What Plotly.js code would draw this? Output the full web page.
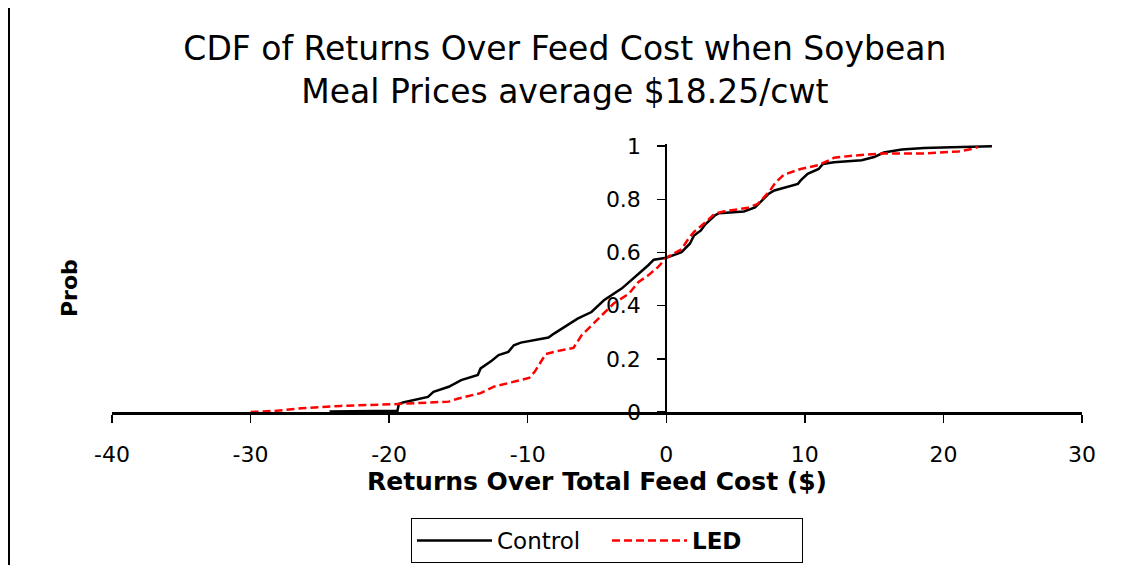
<!DOCTYPE html>
<html>
<head>
<meta charset="utf-8">
<script src="https://cdn.plot.ly/plotly-3.0.1.min.js"></script>
<style>
  html, body { margin: 0; padding: 0; background: #fff; }
  #chart { width: 1123px; height: 565px; }
</style>
</head>
<body>
<div id="chart"></div>
<script>
// Control CDF (Returns over total feed cost, $ ; cumulative probability)
const controlX = [-24.3, -21.9, -19.4, -19.3, -19.0, -17.2, -16.8, -15.7, -14.8, -13.6, -13.4, -12.6, -12.1, -11.4, -11.0, -10.5, -9.7, -8.5, -8.1, -7.3, -6.4, -5.4, -4.5, -3.2, -2.2, -1.3, -0.9, 0, 1.1, 1.7, 2.0, 2.5, 2.8, 3.5, 3.8, 5.6, 6.4, 6.9, 7.4, 7.8, 9.5, 9.7, 10.2, 11.0, 11.3, 12.1, 14.1, 15.0, 15.7, 17.0, 18.6, 20.6, 23.5];
const controlY = [0.002, 0.004, 0.005, 0.030, 0.036, 0.057, 0.076, 0.095, 0.120, 0.139, 0.164, 0.193, 0.214, 0.226, 0.251, 0.261, 0.268, 0.280, 0.295, 0.321, 0.351, 0.376, 0.420, 0.465, 0.510, 0.552, 0.573, 0.580, 0.601, 0.633, 0.664, 0.683, 0.705, 0.739, 0.748, 0.754, 0.769, 0.795, 0.821, 0.833, 0.858, 0.871, 0.896, 0.914, 0.933, 0.939, 0.947, 0.959, 0.976, 0.987, 0.993, 0.996, 1.0];

// LED CDF
const ledX = [-30.0, -28.3, -26.3, -23.5, -19.8, -18.2, -15.7, -15.0, -13.4, -12.4, -11.0, -9.9, -9.5, -8.7, -7.8, -6.7, -6.1, -5.4, -4.7, -3.8, -2.7, -2.0, -1.3, -0.6, 0, 1.1, 1.6, 2.0, 2.7, 3.5, 4.2, 5.9, 6.6, 7.4, 7.9, 8.5, 9.7, 11.0, 12.1, 13.4, 15.5, 18.6, 21.1, 22.2, 22.5];
const ledY = [0.0, 0.004, 0.014, 0.023, 0.029, 0.033, 0.039, 0.051, 0.071, 0.096, 0.113, 0.128, 0.151, 0.218, 0.230, 0.241, 0.289, 0.326, 0.364, 0.408, 0.445, 0.489, 0.514, 0.545, 0.580, 0.612, 0.652, 0.677, 0.708, 0.746, 0.755, 0.768, 0.783, 0.827, 0.864, 0.893, 0.914, 0.929, 0.956, 0.964, 0.972, 0.972, 0.980, 0.991, 0.997];

const xTicks = [-40, -30, -20, -10, 0, 10, 20, 30];
const xTickLabels = ['-40', '-30', '-20', '-10', '0', '10', '20', '30'];
const yTicks = [0, 0.2, 0.4, 0.6, 0.8, 1];
const yTickLabels = ['0', '0.2', '0.4', '0.6', '0.8', '1'];
const seriesNames = ['Control', 'LED'];

const FONT = 'DejaVu Sans, Verdana, Arial, sans-serif';

const traces = [
  {
    x: controlX, y: controlY, type: 'scatter', mode: 'lines',
    name: seriesNames[0],
    line: { color: '#000000', width: 2.5 }
  },
  {
    x: ledX, y: ledY, type: 'scatter', mode: 'lines',
    name: '<b>' + seriesNames[1] + '</b>',
    line: { color: '#ff0000', width: 2.5, dash: '8px,4px' }
  }
];

const layout = {
  width: 1123, height: 565,
  paper_bgcolor: '#ffffff', plot_bgcolor: '#ffffff',
  margin: { l: 112, r: 41, t: 144, b: 153, autoexpand: false },
  showlegend: true,
  font: { family: FONT, color: '#000000' },
  title: {
    text: 'CDF of Returns Over Feed Cost when Soybean<br>Meal Prices average $18.25/cwt',
    font: { family: FONT, size: 33, color: '#000000' },
    x: 0.503, xref: 'container', xanchor: 'center',
    y: 0.893, yref: 'container', yanchor: 'top'
  },
  xaxis: {
    range: [-40, 30],
    tickvals: xTicks, ticktext: xTickLabels,
    ticks: 'outside', ticklen: 8, tickwidth: 1.5, tickcolor: '#000',
    showline: true, linecolor: '#000', linewidth: 2.5,
    showgrid: false, zeroline: false,
    tickfont: { family: FONT, size: 22, color: '#000' },
    ticklabelstandoff: 13,
    automargin: false,
    title: {
      text: 'Returns Over Total Feed Cost ($)',
      font: { family: FONT, size: 25, weight: 700, color: '#000' },
      standoff: 0
    }
  },
  yaxis: {
    range: [0, 1.008],
    tickvals: yTicks, ticktext: yTickLabels,
    anchor: 'free', position: 40 / 70,
    ticks: 'outside', ticklen: 8, tickwidth: 1.5, tickcolor: '#000',
    showline: true, linecolor: '#000', linewidth: 2,
    showgrid: false, zeroline: false,
    tickfont: { family: FONT, size: 22, color: '#000' },
    ticklabelstandoff: 12,
    automargin: false
  },
  annotations: [
    {
      text: '<b>Prob</b>', textangle: -90, showarrow: false,
      xref: 'paper', yref: 'paper',
      x: (69 - 112) / 970, y: (412 - 288) / 268,
      xanchor: 'center', yanchor: 'middle',
      font: { family: FONT, size: 22, color: '#000' }
    }
  ],
  shapes: [
    {
      type: 'line', xref: 'paper', yref: 'paper',
      x0: (9 - 112) / 970, x1: (9 - 112) / 970,
      y0: (412 - 565) / 268, y1: (412 - 8) / 268,
      line: { color: '#000', width: 2 }
    }
  ],
  legend: {
    orientation: 'h',
    x: (411 - 112) / 970, y: (412 - 518) / 268,
    xanchor: 'left', yanchor: 'top',
    bgcolor: '#ffffff', bordercolor: '#000', borderwidth: 1,
    font: { family: FONT, size: 23, color: '#000' },
    itemwidth: 75,
    entrywidth: 105
  }
};

Plotly.newPlot('chart', traces, layout, { displayModeBar: false, staticPlot: true });
</script>
</body>
</html>
